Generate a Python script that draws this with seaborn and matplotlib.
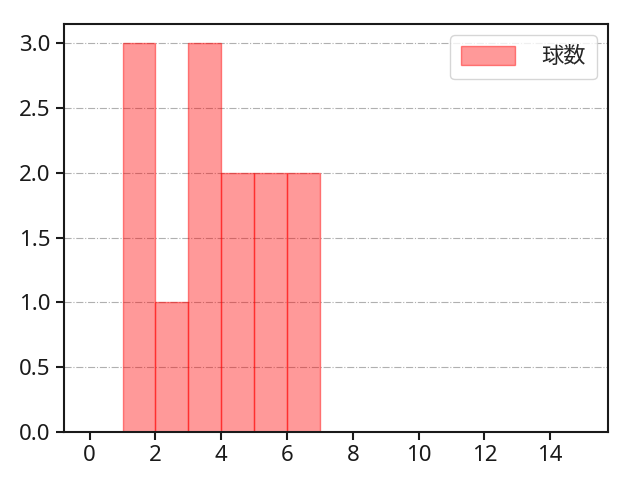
import matplotlib
matplotlib.use("Agg")
import matplotlib.pyplot as plt
import seaborn as sns
import pandas as pd

# pitch counts (one entry per pitch)
bin_starts = [1, 2, 3, 4, 5, 6]
bin_counts = [3, 1, 3, 2, 2, 2]
bin_edges = [1, 2, 3, 4, 5, 6, 7]
label = "球数"

values = [b for b, c in zip(bin_starts, bin_counts) for _ in range(c)]
df = pd.DataFrame({label: values})

sns.set_style("ticks")
plt.rcParams['font.family'] = ['Noto Sans', 'Noto Sans CJK JP', 'DejaVu Sans']

fig = plt.figure(figsize=(6.4, 4.8), dpi=100)
ax = fig.add_axes([0.1, 0.1, 0.85, 0.85])

sns.histplot(data=df, x=label, bins=bin_edges, facecolor=(1, 0, 0, 0.4),
             edgecolor=(1, 0, 0, 0.45), linewidth=1.0, ax=ax, label=label)

ax.set_xlim(-0.78, 15.76)
ax.set_ylim(0, 3.15)
ax.set_xticks(range(0, 16, 2))
ax.set_yticks([0, 0.5, 1.0, 1.5, 2.0, 2.5, 3.0])
ax.set_yticklabels([f"{v:.1f}" for v in [0, 0.5, 1.0, 1.5, 2.0, 2.5, 3.0]])
ax.set_xlabel("")
ax.set_ylabel("")
ax.tick_params(labelsize=16, length=6, width=1.5, colors="#1a1a1a")
ax.grid(axis="y", linestyle="-.", color="#b0b0b0", linewidth=0.8)
ax.set_axisbelow(True)
for s in ax.spines.values():
    s.set_visible(True)
    s.set_color("#1a1a1a")
    s.set_linewidth(1.5)
ax.legend(loc="upper right", fontsize=16, handlelength=2.4, handleheight=0.9,
          handletextpad=1.2, borderpad=0.5)

fig.savefig("out.png", dpi=100)
